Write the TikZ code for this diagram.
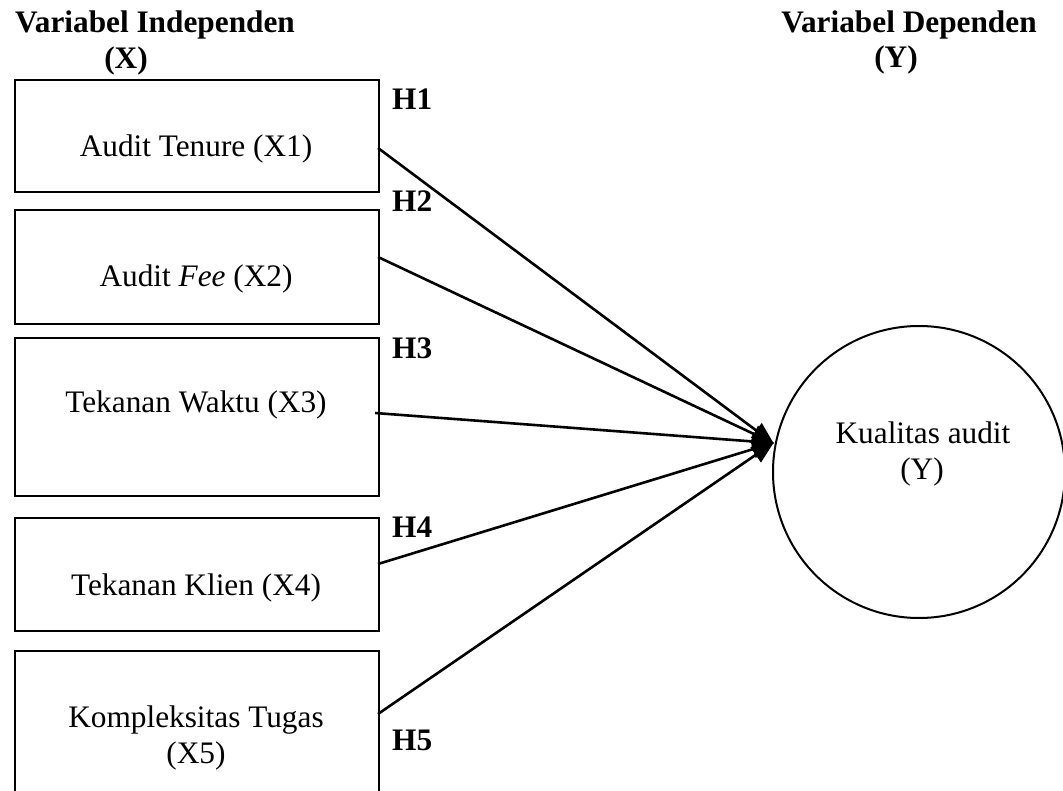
\documentclass[tikz,border=0pt]{standalone}
\usepackage{fontspec}
\setmainfont{Liberation Serif}
\usetikzlibrary{arrows.meta}
\begin{document}
\begin{tikzpicture}[x=1pt,y=-1pt,
  every node/.style={font=\fontsize{31.3}{36}\selectfont, inner sep=0pt},
  varbox/.style={draw, line width=2.4pt, rectangle, minimum width=364pt, anchor=north west},
  lbl/.style={anchor=base},
  hlbl/.style={anchor=base west, font=\fontsize{31.3}{36}\selectfont\bfseries},
  head/.style={anchor=base, font=\fontsize{31.3}{36}\selectfont\bfseries},
  conn/.style={line width=2.6pt, -{Triangle[length=22pt,width=18pt]}, shorten >=-1pt}]
\clip (0,0) rectangle (1063,791);
\fill[white] (0,0) rectangle (1063,791);
% headings
\node[head] (hx1) at (155,33) {Variabel Independen};
\node[head] (hx2) at (126,69) {(X)};
\node[head] (hy1) at (909,33) {Variabel Dependen};
\node[head] (hy2) at (896,68) {(Y)};
% boxes
\node[varbox, minimum height=112pt] (b1) at (14,79) {};
\node[varbox, minimum height=114pt] (b2) at (14,209) {};
\node[varbox, minimum height=158pt] (b3) at (14,337) {};
\node[varbox, minimum height=113pt] (b4) at (14,517) {};
\node[varbox, minimum height=160pt] (b5) at (14,650) {};
% box texts
\node[lbl] (t1) at (196,157) {Audit Tenure (X1)};
\node[lbl] (t2) at (196,287) {Audit \textit{Fee} (X2)};
\node[lbl] (t3) at (196,413) {Tekanan Waktu (X3)};
\node[lbl] (t4) at (196,595) {Tekanan Klien (X4)};
\node[lbl] (t5a) at (196,727) {Kompleksitas Tugas};
\node[lbl] (t5b) at (196,763) {(X5)};
% hypothesis labels
\node[hlbl] (h1) at (392,110) {H1};
\node[hlbl] (h2) at (392,212) {H2};
\node[hlbl] (h3) at (392,359) {H3};
\node[hlbl] (h4) at (392,537) {H4};
\node[hlbl] (h5) at (392,750) {H5};
% dependent circle
\node[draw, circle, line width=2pt, minimum size=292pt] (y) at (919,472) {};
\node[lbl] (ty1) at (923,443) {Kualitas audit};
\node[lbl] (ty2) at (922,479) {(Y)};
% connectors
\coordinate (tip) at (773,443);
\coordinate (s1) at (378,148);
\coordinate (s2) at (378,257);
\coordinate (s3) at (375,413);
\coordinate (s4) at (378,564);
\coordinate (s5) at (378,714);
\draw[conn] (s1) -- (tip);
\draw[conn] (s2) -- (tip);
\draw[conn] (s3) -- (tip);
\draw[conn] (s4) -- (tip);
\draw[conn] (s5) -- (tip);
\end{tikzpicture}
\end{document}
